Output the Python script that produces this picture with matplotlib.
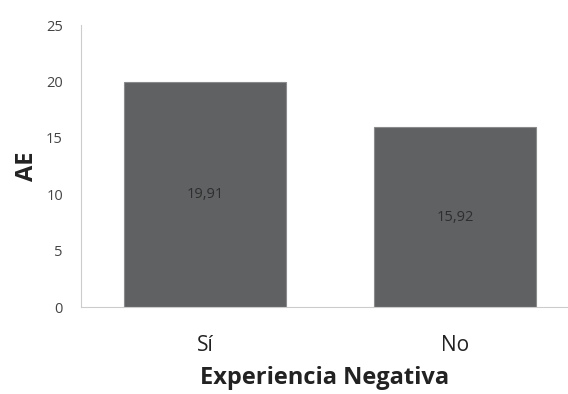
import matplotlib.pyplot as plt
import numpy as np

plt.rcParams['font.family'] = ['Open Sans', 'DejaVu Sans']

categories = ['Sí', 'No']
values = [19.91, 15.92]
value_labels = ['19,91', '15,92']
yticks = [0, 5, 10, 15, 20, 25]

fig = plt.figure(figsize=(5.68, 3.94), dpi=100)
ax = fig.add_axes([0.1426, 0.2208, 0.8574, 0.7157])

x = np.arange(len(categories))
bars = ax.bar(x, values, width=0.65, color='#606163', edgecolor='#8a8b8d', linewidth=0.8)

for b, lab in zip(bars, value_labels):
    ax.text(b.get_x() + b.get_width() / 2, b.get_height() / 2, lab,
            ha='center', va='center', fontsize=10.5, color='#2e2e2e')

ax.set_xlim(-0.496, 1.452)
ax.set_ylim(0, 25)
ax.set_yticks(yticks)
ax.set_yticklabels([str(t) for t in yticks], fontsize=10.5, color='#444444')
ax.set_xticks(x)
ax.set_xticklabels(categories, fontsize=15, color='#222222')
ax.tick_params(axis='both', length=0)
ax.tick_params(axis='y', pad=13)
ax.tick_params(axis='x', pad=20)

for s in ['top', 'right']:
    ax.spines[s].set_visible(False)
ax.spines['left'].set_color('#cccccc')
ax.spines['bottom'].set_color('#cccccc')

ax.set_ylabel('AE', fontsize=17, fontweight='bold', color='#222222', labelpad=5)
ax.set_xlabel('Experiencia Negativa', fontsize=17, fontweight='bold', color='#222222', labelpad=7)

fig.savefig('out.png', dpi=100)
